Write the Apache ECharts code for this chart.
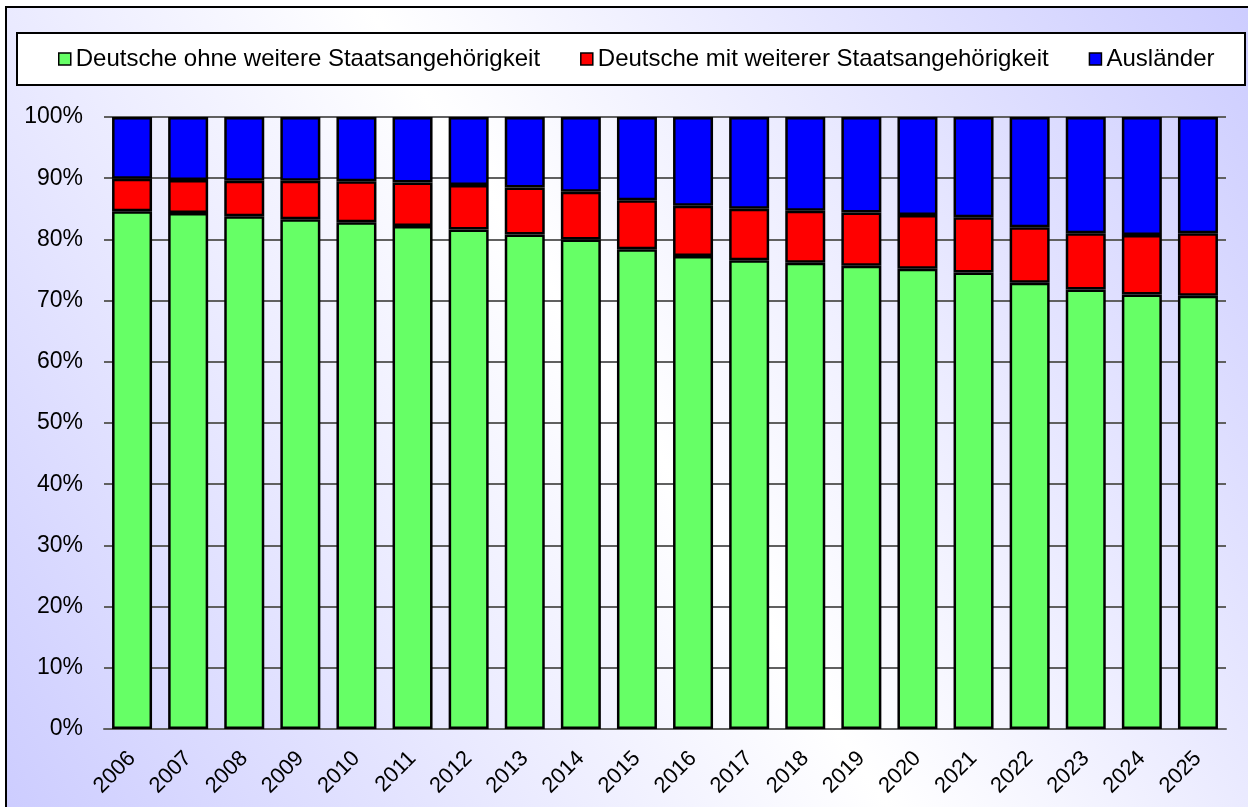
<!DOCTYPE html>
<html>
<head>
<meta charset="utf-8">
<script src="https://cdn.jsdelivr.net/npm/echarts@6/dist/echarts.min.js"></script>
<style>
  html, body { margin: 0; padding: 0; background: #fff; }
  #main { width: 1248px; height: 807px; }
</style>
</head>
<body>
<div id="main"></div>
<script>
// Jahre
var years = ['2006', '2007', '2008', '2009', '2010', '2011', '2012', '2013', '2014', '2015',
  '2016', '2017', '2018', '2019', '2020', '2021', '2022', '2023', '2024', '2025'];
// Anteile in %
var ohneWeitere = [84.6, 84.3, 83.8, 83.3, 82.8, 82.2, 81.6, 80.8, 80.0, 78.4,
  77.3, 76.6, 76.2, 75.7, 75.2, 74.6, 72.9, 71.8, 71.0, 70.8];
var mitWeiterer = [5.3, 5.4, 5.8, 6.3, 6.7, 7.1, 7.3, 7.7, 7.8, 8.0,
  8.2, 8.4, 8.5, 8.7, 8.8, 9.0, 9.1, 9.2, 9.7, 10.2];
var auslaender = [10.1, 10.3, 10.4, 10.4, 10.5, 10.7, 11.1, 11.5, 12.2, 13.6,
  14.5, 15.0, 15.3, 15.6, 16.0, 16.4, 18.0, 19.0, 19.3, 19.0];
var yTicks = [0, 10, 20, 30, 40, 50, 60, 70, 80, 90, 100];

var myChart = echarts.init(document.getElementById('main'));

var barStyle = function (color) {
  return { color: color, borderColor: '#000', borderWidth: 2.5 };
};

var option = {
  animation: false,
  textStyle: { fontFamily: 'Arial, "Liberation Sans", sans-serif', color: '#000' },
  graphic: [
    {
      type: 'rect', z: -100, silent: true,
      shape: { x: 6, y: 7, width: 1252, height: 812 },
      style: {
        fill: new echarts.graphic.LinearGradient(0, 1, 1, 0, [
          { offset: 0, color: '#ccccff' },
          { offset: 0.5, color: '#ffffff' },
          { offset: 1, color: '#ccccff' }
        ]),
        stroke: '#000', lineWidth: 2
      }
    },
    {
      type: 'rect', z: 3, silent: true,
      shape: { x: 17, y: 33, width: 1228, height: 52 },
      style: { fill: '#fff', stroke: '#000', lineWidth: 2 }
    }
  ],
  legend: {
    left: 58,
    top: 47,
    padding: 0,
    itemWidth: 12,
    itemHeight: 12,
    itemGap: 40,
    icon: 'rect',
    itemStyle: { borderColor: '#000', borderWidth: 1.5 },
    textStyle: { fontSize: 24, color: '#000', fontFamily: 'Arial, "Liberation Sans", sans-serif' },
    data: ['Deutsche ohne weitere Staatsangehörigkeit', 'Deutsche mit weiterer Staatsangehörigkeit', 'Ausländer']
  },
  grid: { left: 104, right: 22, top: 117, bottom: 78 },
  xAxis: {
    type: 'category',
    data: years,
    axisLine: { lineStyle: { color: '#606060', width: 2 } },
    axisTick: { show: false },
    axisLabel: { rotate: 45, margin: 26, fontSize: 22, color: '#000' }
  },
  yAxis: {
    type: 'value',
    min: 0,
    max: 100,
    interval: 10,
    axisLine: { show: false },
    axisTick: { show: false },
    splitLine: { lineStyle: { color: '#606060', width: 2 } },
    axisLabel: {
      margin: 21, fontSize: 23, color: '#000',
      formatter: function (v) { return yTicks.indexOf(v) >= 0 ? v + '%' : ''; }
    }
  },
  series: [
    { name: 'Deutsche ohne weitere Staatsangehörigkeit', type: 'bar', stack: 'a', barWidth: 40, itemStyle: barStyle('#66ff66'), data: ohneWeitere },
    { name: 'Deutsche mit weiterer Staatsangehörigkeit', type: 'bar', stack: 'a', barWidth: 40, itemStyle: barStyle('#ff0000'), data: mitWeiterer },
    { name: 'Ausländer', type: 'bar', stack: 'a', barWidth: 40, itemStyle: barStyle('#0000ff'), data: auslaender }
  ]
};

myChart.setOption(option);
</script>
</body>
</html>
